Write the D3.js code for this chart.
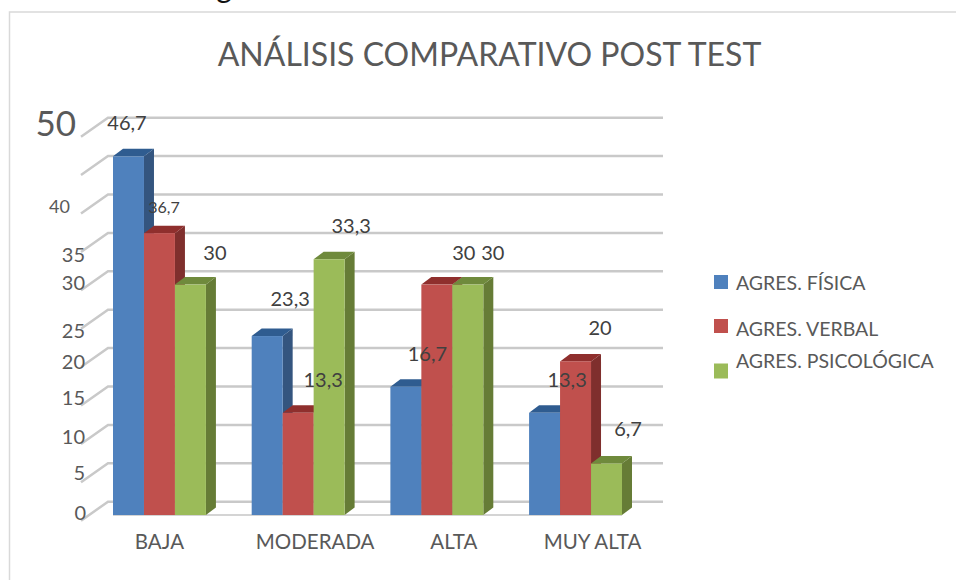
<!DOCTYPE html>
<html>
<head>
<meta charset="utf-8">
<script src="https://cdnjs.cloudflare.com/ajax/libs/d3/7.8.5/d3.min.js"></script>
<style>
body { margin: 0; background: #fff; }
svg { display: block; }
text { font-family: Lato, "Open Sans", sans-serif; fill: #595959; }
</style>
</head>
<body>
<svg id="chart-area" width="956" height="580"></svg>
<script>
var categories = ["BAJA", "MODERADA", "ALTA", "MUY ALTA"];
var seriesNames = ["AGRES. FÍSICA", "AGRES. VERBAL", "AGRES. PSICOLÓGICA"];
var fisica = [46.7, 23.3, 16.7, 13.3];
var verbal = [36.7, 13.3, 30, 20];
var psicologica = [30, 33.3, 30, 6.7];
var yTicks = [0, 5, 10, 15, 20, 25, 30, 35, 40, 45, 50];
var yTickLabels = ["0", "5", "10", "15", "20", "25", "30", "35", "40", "", "50"];

var svg = d3.select("svg#chart-area");

var colors = ["#4f81bd", "#c0504d", "#9bbb59"];
var topColors = ["#2f5c90", "#8f2f2d", "#6f8a3c"];
var sideColors = ["#34557f", "#7f2f2d", "#667c36"];

// depth of the fake 3d
var barDx = 10, barDy = 7.5;
var wallDx = 27, wallDy = 19, backDy = 13.3;

var y = d3.scaleLinear().domain([0, 50]).range([515, 131]);
var x0 = d3.scaleBand().domain(categories).range([113, 622]).paddingInner(0.33);
var x1 = d3.scaleBand().domain(seriesNames).range([0, x0.bandwidth()]);

// frame
svg.append("path").attr("d", "M9.5,580V12H956").attr("fill", "none")
    .attr("stroke", "#d9d9d9").attr("stroke-width", 1.5);

// cut off line of text above the chart
svg.append("text").attr("x", 224).attr("y", -2).attr("text-anchor", "middle")
    .style("font-size", "30px").style("fill", "#111").text("g");

svg.append("text").attr("x", 489.5).attr("y", 66).attr("text-anchor", "middle")
    .style("font-size", "32px").text("ANÁLISIS COMPARATIVO POST TEST");

// gridlines
var grid = svg.append("g");
yTicks.forEach(function(t) {
    var yBack = y(t) - backDy;
    grid.append("polyline")
        .attr("points", [[81, yBack + wallDy], [81 + wallDx, yBack], [663, yBack]].join(" "))
        .attr("fill", "none").attr("stroke", "#c9c9c9").attr("stroke-width", 2.5);
});
grid.append("line").attr("x1", 113).attr("x2", 622).attr("y1", y(0)).attr("y2", y(0))
    .attr("stroke", "#d4d4d4").attr("stroke-width", 2);

// bars
var allSeries = [fisica, verbal, psicologica];
categories.forEach(function(cat, c) {
    allSeries.forEach(function(values, s) {
        var left = x0(cat) + x1(seriesNames[s]);
        var right = left + x1.bandwidth();
        var top = y(values[c]);
        var bottom = y(0);
        var g = svg.append("g");
        g.append("polygon")
            .attr("points", [[right, top], [right + barDx, top - barDy], [right + barDx, bottom - barDy], [right, bottom]].join(" "))
            .attr("fill", sideColors[s]);
        g.append("polygon")
            .attr("points", [[left, top], [left + barDx, top - barDy], [right + barDx, top - barDy], [right, top]].join(" "))
            .attr("fill", topColors[s]);
        g.append("rect").attr("x", left).attr("y", top)
            .attr("width", right - left).attr("height", bottom - top)
            .attr("fill", colors[s]);
    });
});

// y axis, labels are not aligned in the picture so each one gets a nudge
var yNudge = [[0, -4], [-1, -5], [-1, -3], [-1, -3], [-1, -1], [-1, 6], [-1, -3], [-1, 7], [-16, -2], [0, 0], [-10, -10]];
var ySizes = [20, 20, 20, 20, 20, 20, 20, 20, 18, 20, 35];
var yAxis = svg.append("g").attr("transform", "translate(86,0)")
    .call(d3.axisLeft(y).tickValues(yTicks).tickSize(0).tickPadding(0)
        .tickFormat(function(d, i) { return yTickLabels[i]; }));
yAxis.select(".domain").remove();
yAxis.selectAll("text")
    .attr("dx", function(d, i) { return yNudge[i][0]; })
    .attr("dy", function(d, i) { return yNudge[i][1]; })
    .attr("dominant-baseline", "central")
    .style("font-size", function(d, i) { return ySizes[i] + "px"; })
    .style("font-family", "Lato");

// x axis
var xNudge = [0, 17, 17, 17];
var xAxis = svg.append("g").attr("transform", "translate(0,515)")
    .call(d3.axisBottom(x0).tickSize(0).tickPadding(0));
xAxis.select(".domain").remove();
xAxis.selectAll("text")
    .attr("dx", function(d, i) { return xNudge[i]; })
    .attr("y", 26)
    .attr("dy", 0)
    .attr("dominant-baseline", "central")
    .style("font-size", "20.5px")
    .style("font-family", "Lato");

// data labels, moved from the bar top by hand as in the picture
var labelNudge = [
    [[-1.5, -34], [23, -38], [21.5, -34], [22.5, -34]],
    [[4.5, -27], [25, -34], [27, -33], [24.5, -34]],
    [[24.5, -33], [22, -34], [25, -33], [21.5, -35.5]]
];
var labelSizes = [[20, 20, 20, 20], [16, 20, 20, 20], [20, 20, 20, 20]];
allSeries.forEach(function(values, s) {
    values.forEach(function(v, c) {
        var cx = x0(categories[c]) + x1(seriesNames[s]) + x1.bandwidth() / 2;
        svg.append("text")
            .attr("x", cx + labelNudge[s][c][0])
            .attr("y", y(v) + labelNudge[s][c][1])
            .attr("text-anchor", "middle")
            .attr("dominant-baseline", "central")
            .style("font-size", labelSizes[s][c] + "px")
            .style("fill", "#404040")
            .text(String(v).replace(".", ","));
    });
});

// legend
var legendBox = [282, 326, 370.5];
var legendText = [282, 328, 360];
seriesNames.forEach(function(name, i) {
    svg.append("rect").attr("x", 714).attr("y", legendBox[i] - 7)
        .attr("width", 14).attr("height", i == 2 ? 15 : 14).attr("fill", colors[i]);
    svg.append("text").attr("x", 736).attr("y", legendText[i])
        .attr("dominant-baseline", "central")
        .style("font-size", "19.5px").text(name);
});
</script>
</body>
</html>
